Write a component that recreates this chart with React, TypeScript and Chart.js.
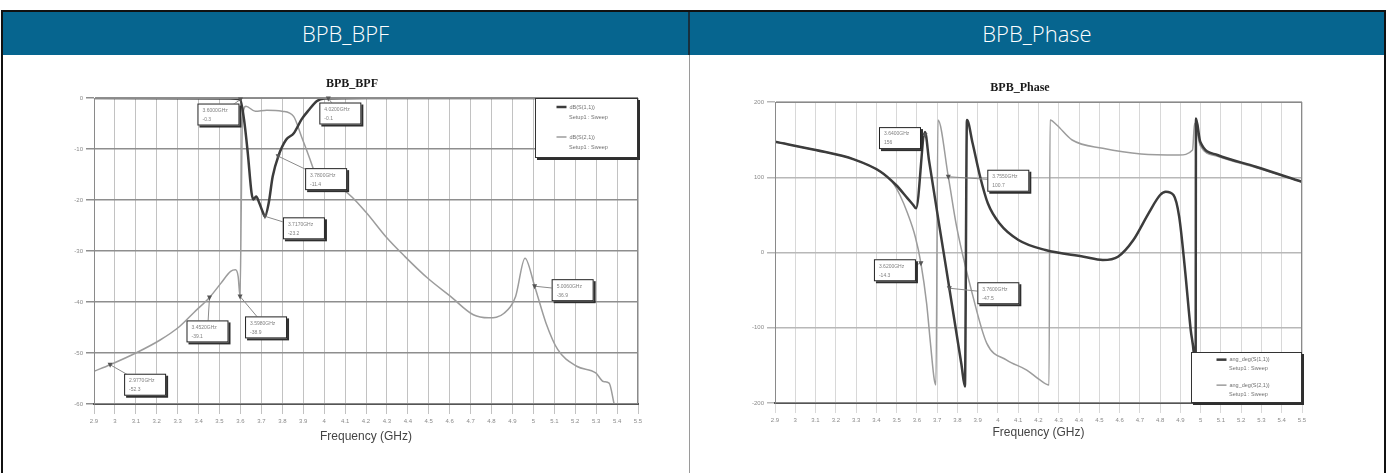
import React, { useEffect, useRef } from "react";
import { Chart, registerables } from "chart.js";

Chart.register(...registerables);

// ---------- axis ticks ----------
const freqTicks = [2.9, 3, 3.1, 3.2, 3.3, 3.4, 3.5, 3.6, 3.7, 3.8, 3.9, 4, 4.1, 4.2, 4.3, 4.4, 4.5, 4.6, 4.7, 4.8, 4.9, 5, 5.1, 5.2, 5.3, 5.4, 5.5];
const bpfYTicks = [0, -10, -20, -30, -40, -50, -60];
const phaseYTicks = [200, 100, 0, -100, -200];

// ---------- BPB_BPF (dB) ----------
const bpfS11Freq = [2.9, 3.55, 3.598, 3.617, 3.635, 3.653, 3.662, 3.675, 3.69, 3.708, 3.717, 3.735, 3.754, 3.781, 3.818, 3.855, 3.892, 3.928, 3.964, 4.0, 4.2, 5.5];
const bpfS11 = [0, -0.1, -0.3, -4.2, -10.8, -18.6, -19.9, -19.3, -20.6, -22.5, -23.2, -20.6, -15.4, -11.4, -8.2, -6.9, -4.2, -2.3, -0.65, -0.1, 0, 0];

const bpfS21Freq = [2.9, 2.977, 3.105, 3.214, 3.306, 3.379, 3.452, 3.507, 3.553, 3.576, 3.589, 3.598, 3.604, 3.609, 3.626, 3.671, 3.726, 3.799, 3.854, 3.891, 3.927, 3.964, 4.019, 4.101, 4.202, 4.293, 4.384, 4.494, 4.604, 4.713, 4.786, 4.86, 4.915, 4.96, 5.006, 5.06, 5.116, 5.207, 5.298, 5.335, 5.362, 5.386];
const bpfS21 = [-53.6, -52.3, -49.9, -47.5, -44.9, -42.0, -39.1, -36.3, -34.0, -33.7, -35.0, -38.9, -20.6, -4.2, -1.6, -2.6, -2.4, -2.6, -3.6, -7.5, -11.4, -15.4, -17.3, -18.3, -22.5, -27.1, -31.0, -35.3, -38.9, -42.5, -43.1, -42.2, -38.9, -31.4, -36.9, -44.1, -49.3, -52.6, -53.9, -55.6, -55.9, -60];

const bpfMarkerFreq = [3.6, 4.02, 3.78, 3.717, 5.006, 3.452, 3.598, 2.977];
const bpfMarkerVal = [-0.3, -0.1, -11.4, -23.2, -36.9, -39.1, -38.9, -52.3];
const bpfMarkerName = ["3.6000GHz", "4.0200GHz", "3.7800GHz", "3.7170GHz", "5.0060GHz", "3.4520GHz", "3.5980GHz", "2.9770GHz"];
// box offsets in px (style only)
const bpfMarkerOffset = [[-22, 15], [12, 15], [48, 23], [39, 12], [38, 4], [-2, 34], [26, 31], [35, 20]];

// ---------- BPB_Phase (deg) ----------
const phaseS11Freq = [2.9, 3.101, 3.289, 3.421, 3.497, 3.554, 3.582, 3.596, 3.64, 3.66, 3.74, 3.82, 3.837, 3.847, 3.875, 3.912, 3.95, 4.007, 4.101, 4.234, 4.423, 4.517, 4.592, 4.668, 4.743, 4.8, 4.828, 4.866, 4.894, 4.923, 4.951, 4.966, 4.975, 4.977, 4.998, 5.083, 5.272, 5.499];
const phaseS11 = [147.2, 136.2, 123.8, 107.4, 89.7, 72, 63.1, 58.7, 160, 122.1, -13.5, -149.2, -178, 176, 145.1, 100.7, 65.4, 38.8, 16.6, 3.3, -5.6, -10, -5.6, 16.6, 52.1, 76.4, 80.8, 76.4, 47.6, -23.3, -103, -134, -178, 178, 147.2, 129.6, 114, 94];

const phaseS21Freq = [2.9, 3.101, 3.289, 3.421, 3.478, 3.516, 3.554, 3.592, 3.62, 3.648, 3.667, 3.686, 3.694, 3.704, 3.755, 3.796, 3.877, 3.945, 4.043, 4.142, 4.207, 4.252, 4.257, 4.29, 4.366, 4.517, 4.706, 4.894, 4.96, 4.97, 4.998, 5.083, 5.272, 5.499];
const phaseS21 = [147.2, 136.2, 123.8, 107.4, 94, 76.4, 52.1, 21, -14.3, -67.5, -120.7, -169.4, -176, 176, 100.7, 34.3, -58.7, -120.7, -142.9, -156.2, -169.4, -176, 176, 169.4, 149.5, 138.5, 130.9, 129.6, 136.2, 171.7, 142, 128, 113, 94];

const phaseMarkerFreq = [3.64, 3.755, 3.62, 3.76];
const phaseMarkerVal = [156, 100.7, -14.3, -47.5];
const phaseMarkerName = ["3.6400GHz", "3.7550GHz", "3.6200GHz", "3.7600GHz"];
const phaseMarkerOffset = [[-25, 3], [60, 4], [-26, 7], [49, 5]];

const DARK = "#3c3c3c";
const LIGHT = "#9c9c9c";

const hfssPlugin = {
  id: "hfssAnnot",
  afterDatasetsDraw(chart: any, _args: any, opts: any) {
    const ctx = chart.ctx;
    const xs = chart.scales.x;
    const ys = chart.scales.y;
    const ca = chart.chartArea;
    ctx.save();
    ctx.strokeStyle = "#8a8a8a";
    ctx.lineWidth = 1;
    ctx.strokeRect(ca.left + 0.5, ca.top + 0.5, ca.right - ca.left - 1, ca.bottom - ca.top - 1);

    const bw = 42, bh = 22;
    (opts.markers || []).forEach((m: any) => {
      const px = xs.getPixelForValue(m.x);
      const py = ys.getPixelForValue(m.y);
      const bx = px + m.dx, by = py + m.dy;
      ctx.strokeStyle = "#8a8a8a";
      ctx.lineWidth = 1;
      ctx.beginPath();
      ctx.moveTo(px, py);
      ctx.lineTo(bx, by);
      ctx.stroke();
      ctx.fillStyle = "#2e2e2e";
      ctx.fillRect(bx - bw / 2 + 2, by - bh / 2 + 2, bw, bh);
      ctx.fillStyle = "#ffffff";
      ctx.fillRect(bx - bw / 2, by - bh / 2, bw, bh);
      ctx.strokeStyle = "#222";
      ctx.strokeRect(bx - bw / 2 + 0.5, by - bh / 2 + 0.5, bw - 1, bh - 1);
      ctx.fillStyle = "#808080";
      ctx.font = '5px "Liberation Sans", sans-serif';
      ctx.textAlign = "left";
      ctx.textBaseline = "middle";
      ctx.fillText(m.t1, bx - bw / 2 + 5, by - 4);
      ctx.fillText(m.t2, bx - bw / 2 + 5, by + 5);
      ctx.fillStyle = "#555";
      ctx.beginPath();
      ctx.moveTo(px, py + 3);
      ctx.lineTo(px - 2.5, py - 2);
      ctx.lineTo(px + 2.5, py - 2);
      ctx.closePath();
      ctx.fill();
    });

    const L = opts.legend;
    if (L) {
      const x0 = ca.right - L.w;
      const y0 = L.corner === "tr" ? ca.top : ca.bottom - L.h;
      ctx.fillStyle = "#2e2e2e";
      ctx.fillRect(x0 + 2, y0 + 2, L.w, L.h);
      ctx.fillStyle = "#ffffff";
      ctx.fillRect(x0, y0, L.w, L.h);
      ctx.strokeStyle = "#333";
      ctx.lineWidth = 1;
      ctx.strokeRect(x0 + 0.5, y0 + 0.5, L.w - 1, L.h - 1);
      ctx.font = '5.5px "Liberation Sans", sans-serif';
      ctx.textBaseline = "middle";
      const rowH = L.h / 4;
      chart.data.datasets.forEach((ds: any, i: number) => {
        const yA = y0 + rowH * (2 * i + 0.6);
        const yB = y0 + rowH * (2 * i + 1.3);
        const cx = x0 + L.w / 2;
        ctx.strokeStyle = ds.borderColor;
        ctx.lineWidth = ds.borderWidth;
        ctx.beginPath();
        ctx.moveTo(cx - 30, yA);
        ctx.lineTo(cx - 20, yA);
        ctx.stroke();
        ctx.fillStyle = "#707070";
        ctx.textAlign = "left";
        ctx.fillText(ds.label, cx - 17, yA);
        ctx.textAlign = "center";
        ctx.fillText("Setup1 : Sweep", cx + 2, yB);
      });
    }
    ctx.restore();
  },
};

function toPoints(xs: number[], ys: number[]) {
  return xs.map((x, i) => ({ x, y: ys[i] }));
}

function buildMarkers(f: number[], v: number[], n: string[], off: number[][]) {
  return f.map((x, i) => ({ x, y: v[i], t1: n[i], t2: String(v[i]), dx: off[i][0], dy: off[i][1] }));
}

function buildConfig(p: any): any {
  return {
    type: "line",
    data: {
      datasets: [
        { label: p.labels[0], data: toPoints(p.f1, p.v1), borderColor: DARK, borderWidth: 2.5, pointRadius: 0, cubicInterpolationMode: "monotone", order: 0 },
        { label: p.labels[1], data: toPoints(p.f2, p.v2), borderColor: LIGHT, borderWidth: 1.5, pointRadius: 0, cubicInterpolationMode: "monotone", order: 1 },
      ],
    },
    options: {
      responsive: false,
      animation: false,
      events: [],
      layout: { padding: { left: 0, right: p.padRight, top: 0, bottom: 0 } },
      plugins: {
        legend: { display: false },
        tooltip: { enabled: false },
        title: {
          display: true,
          text: p.title,
          color: "#1a1a1a",
          font: { family: '"Liberation Serif", serif', size: 12, weight: "bold", lineHeight: "14px" },
          padding: { top: p.titleTop, bottom: p.titleBottom },
        },
        hfssAnnot: { markers: p.markers, legend: p.legend },
      },
      scales: {
        x: {
          type: "linear",
          min: 2.9,
          max: 5.5,
          afterBuildTicks: (ax: any) => {
            ax.ticks = freqTicks.map((v) => ({ value: v }));
          },
          afterFit: (s: any) => {
            s.height = p.xAxisH;
          },
          ticks: {
            autoSkip: false,
            maxRotation: 0,
            padding: 4,
            color: "#8a8a8a",
            font: { family: '"Liberation Sans", sans-serif', size: 6 },
            callback: (v: number) => String(Math.round(v * 10) / 10),
          },
          grid: { color: p.vGrid, lineWidth: 1, tickLength: 10 },
          border: { color: "#555", width: 2 },
          title: {
            display: true,
            text: "Frequency (GHz)",
            color: "#444",
            font: { family: '"Liberation Sans", sans-serif', size: 12 },
            padding: { top: 0, bottom: p.xTitleBottom },
          },
        },
        y: {
          type: "linear",
          min: p.yMin,
          max: p.yMax,
          afterBuildTicks: (ax: any) => {
            ax.ticks = p.yTicks.map((v: number) => ({ value: v }));
          },
          afterFit: (s: any) => {
            s.width = p.yAxisW;
          },
          ticks: {
            color: "#8a8a8a",
            padding: 3,
            font: { family: '"Liberation Sans", sans-serif', size: 6 },
          },
          grid: { color: p.hGrid, lineWidth: 1.5, tickLength: 8 },
          border: { color: "#999", width: 1 },
        },
      },
    },
    plugins: [hfssPlugin],
  };
}

const bpfConfig = () =>
  buildConfig({
    title: "BPB_BPF",
    labels: ["dB(S(1,1))", "dB(S(2,1))"],
    f1: bpfS11Freq, v1: bpfS11, f2: bpfS21Freq, v2: bpfS21,
    yMin: -60, yMax: 0, yTicks: bpfYTicks,
    padRight: 28, titleTop: 7, titleBottom: 7, yAxisW: 28, xAxisH: 51, xTitleBottom: 11,
    vGrid: "#c2c2c2", hGrid: "#8e8e8e",
    markers: buildMarkers(bpfMarkerFreq, bpfMarkerVal, bpfMarkerName, bpfMarkerOffset),
    legend: { corner: "tr", w: 103, h: 60 },
  });

const phaseConfig = () =>
  buildConfig({
    title: "BPB_Phase",
    labels: ["ang_deg(S(1,1))", "ang_deg(S(2,1))"],
    f1: phaseS11Freq, v1: phaseS11, f2: phaseS21Freq, v2: phaseS21,
    yMin: -200, yMax: 200, yTicks: phaseYTicks,
    padRight: 36, titleTop: 11, titleBottom: 7, yAxisW: 37, xAxisH: 52, xTitleBottom: 15,
    vGrid: "#d8d8d8", hGrid: "#b8b8b8",
    markers: buildMarkers(phaseMarkerFreq, phaseMarkerVal, phaseMarkerName, phaseMarkerOffset),
    legend: { corner: "br", w: 111, h: 51 },
  });

function ChartCanvas({ make, left, top, width, height }: any) {
  const ref = useRef<HTMLCanvasElement>(null);
  useEffect(() => {
    const chart = new Chart(ref.current as HTMLCanvasElement, make());
    return () => chart.destroy();
  }, []);
  return (
    <canvas
      ref={ref}
      width={width}
      height={height}
      style={{ position: "absolute", left, top, width, height }}
    />
  );
}

const headerText: React.CSSProperties = {
  position: "absolute",
  top: 12,
  height: 43,
  lineHeight: "43px",
  textAlign: "center",
  color: "#ffffff",
  fontFamily: '"Open Sans", "Noto Sans", sans-serif',
  fontWeight: 300,
  fontSize: 22,
};

export default function App() {
  return (
    <div style={{ position: "fixed", left: 0, top: 0, width: 1387, height: 473, background: "#fff", overflow: "hidden" }}>
      {/* table frame */}
      <div style={{ position: "absolute", left: 1, top: 10, width: 1385, height: 480, borderLeft: "2px solid #111", borderRight: "2px solid #111", borderTop: "2px solid #111", boxSizing: "border-box" }} />
      <div style={{ position: "absolute", left: 3, top: 12, width: 1381, height: 43, background: "#06658f" }} />
      <div style={{ position: "absolute", left: 688, top: 12, width: 2, height: 43, background: "#17303f" }} />
      <div style={{ position: "absolute", left: 689, top: 55, width: 1, height: 420, background: "#9a9a9a" }} />
      <div style={{ ...headerText, left: 3, width: 685 }}>BPB_BPF</div>
      <div style={{ ...headerText, left: 690, width: 694 }}>BPB_Phase</div>
      <ChartCanvas make={bpfConfig} left={66} top={70} width={600} height={385} />
      <ChartCanvas make={phaseConfig} left={738} top={70} width={600} height={385} />
    </div>
  );
}
